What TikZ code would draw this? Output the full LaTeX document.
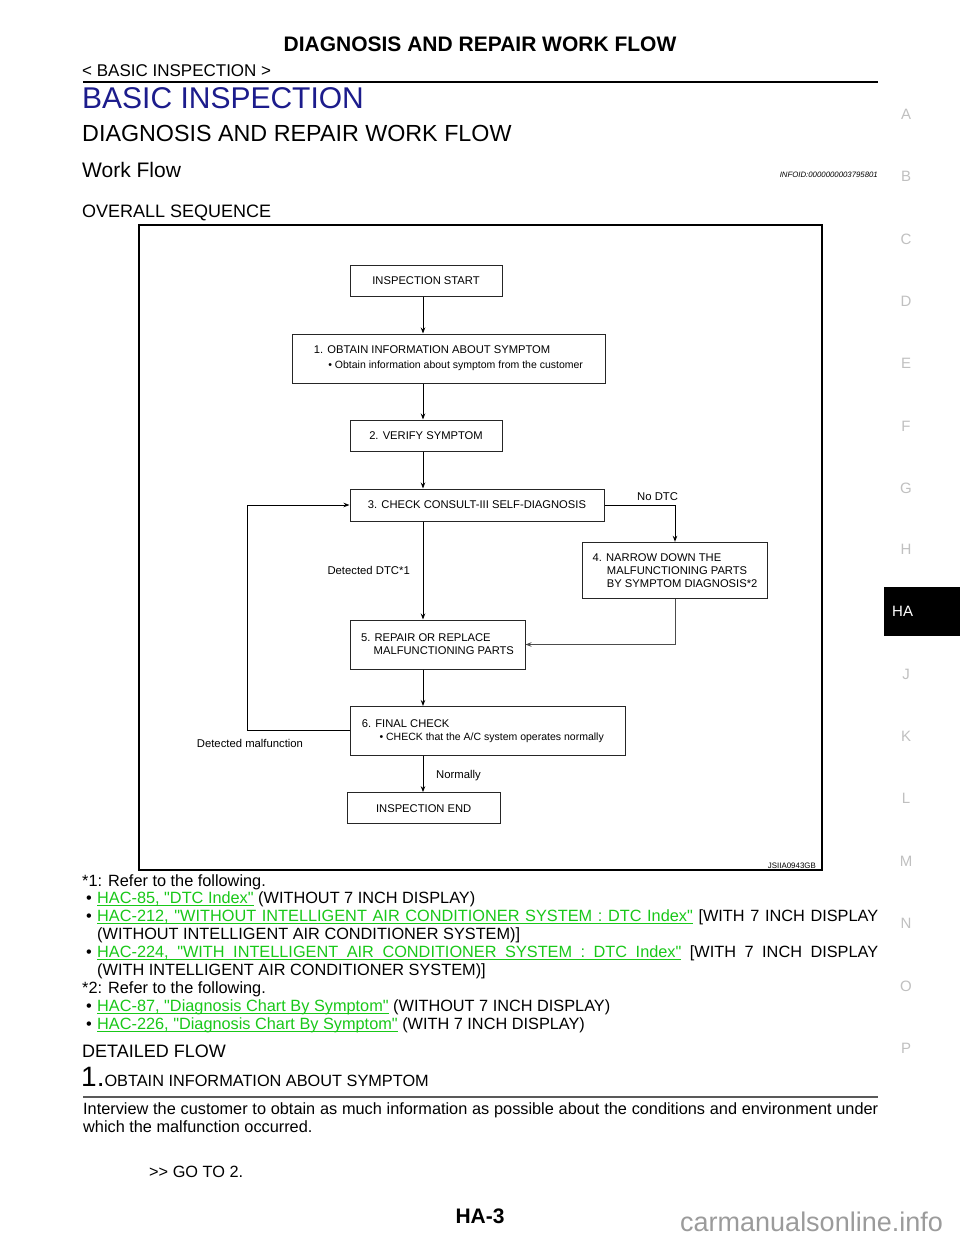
\documentclass[tikz,border=0pt]{standalone}
\usepackage{fontspec}
\setmainfont{Liberation Sans}[Ligatures=TeXOff]
\usetikzlibrary{arrows.meta}
\definecolor{titleblue}{RGB}{28,28,140}
\definecolor{linkgreen}{RGB}{25,200,25}
\definecolor{tabgray}{RGB}{192,192,192}
\definecolor{markgray}{RGB}{155,155,155}
% underlined link words, and underlined stretchable spaces
\newcommand{\ulw}[1]{\leavevmode\setbox0\hbox{#1}\rlap{\rule[-3.1pt]{\wd0}{0.9pt}}\box0}
\newcommand{\ulsp}{\leaders\hrule height -2.2pt depth 3.1pt\hskip\fontdimen2\font plus\fontdimen3\font minus\fontdimen4\font}
\newcommand{\hac}[1]{\textcolor{linkgreen}{\ulw{#1}}}
\tikzstyle{termbox} = [
    rectangle,
    minimum width=152pt,
    minimum height=31pt,
    line width=1pt,
    draw=black!85,
    font=\fontsize{11.2}{13}\selectfont
]
\tikzstyle{stepbox} = [
    rectangle,
    align=left,
    line width=1pt,
    draw=black!85,
    font=\fontsize{11.2}{13}\selectfont
]
\tikzstyle{flowtext} = [
    inner sep=0pt,
    anchor=base west,
    font=\fontsize{11.3}{13}\selectfont
]
\tikzstyle{pagetext} = [
    inner sep=0pt,
    anchor=base west,
    font=\fontsize{16.3}{18}\selectfont
]
\tikzstyle{tabletter} = [
    inner sep=0pt,
    anchor=base,
    text=tabgray,
    font=\fontsize{15}{18}\selectfont
]
\tikzstyle{arrow} = [line width=1pt,-{Stealth[length=6pt,width=4.5pt]}]

\begin{document}
\begin{tikzpicture}[x=1pt, y=-1pt]

\useasboundingbox (0,0) rectangle (960,1242);
\fill [white] (0,0) rectangle (960,1242);

% page header
\node (pagehead) [inner sep=0pt, anchor=base, font=\bfseries\fontsize{21}{24}\selectfont] at (480,51.5) {DIAGNOSIS AND REPAIR WORK FLOW};
\node (crumb) [pagetext, font=\fontsize{17}{20}\selectfont] at (82,76) {< BASIC INSPECTION >};
\draw [line width=2.2pt] (83,82) -- (878,82);
\node (section) [pagetext, text=titleblue, font=\fontsize{30}{34}\selectfont] at (82,108.7) {BASIC INSPECTION};
\node (topic) [pagetext, font=\fontsize{23.3}{26}\selectfont] at (82,141.3) {DIAGNOSIS AND REPAIR WORK FLOW};
\node (workflow) [pagetext, font=\fontsize{21}{24}\selectfont] at (82,177.5) {Work Flow};
\node (infoid) [inner sep=0pt, anchor=base east, font=\itshape\fontsize{7.8}{9}\selectfont] at (878,177) {INFOID:0000000003795801};
\node (overall) [pagetext, font=\fontsize{18}{20}\selectfont] at (82,217.5) {OVERALL SEQUENCE};

% figure frame
\draw [line width=1.8pt] (139,225) rectangle (822,870);
\node (figid) [inner sep=0pt, anchor=base east, font=\fontsize{7.9}{9}\selectfont] at (816,868) {JSIIA0943GB};

% flow boxes
\node (start) [termbox] at (426,280.5) {INSPECTION START};

\node (obtain) [stepbox, minimum width=313pt, minimum height=49pt, font=\fontsize{11.2}{15}\selectfont] at (448.5,358.5)
{1. OBTAIN INFORMATION ABOUT SYMPTOM\\\hspace*{14.4pt}{\fontsize{10.5}{15}\selectfont • Obtain information about symptom from the customer}};

\node (verify) [termbox] at (426,435.5) {2. VERIFY SYMPTOM};

\node (check) [termbox, minimum width=254pt, minimum height=32pt] at (477,505)
{3. CHECK CONSULT-III SELF-DIAGNOSIS};

\node (narrow) [stepbox, minimum width=184.6pt, minimum height=56.4pt] at (675,570.5)
{4. NARROW DOWN THE\\\hspace*{14.3pt}MALFUNCTIONING PARTS\\\hspace*{14.3pt}BY SYMPTOM DIAGNOSIS*2};

\node (repair) [stepbox, minimum width=175pt, minimum height=49pt] at (437.5,644.5)
{5. REPAIR OR REPLACE\\\hspace*{12.7pt}MALFUNCTIONING PARTS};

\node (final) [stepbox, minimum width=275pt, minimum height=48.5pt] at (487.5,730.75)
{6. FINAL CHECK\\\hspace*{17.7pt}{\fontsize{10.5}{13}\selectfont • CHECK that the A/C system operates normally}\hspace*{9.4pt}};

\node (finish) [termbox, minimum width=152.7pt, minimum height=31.3pt] at (423.7,808.3) {INSPECTION END};

% connectors
\coordinate (spine) at (423,0);
\coordinate (loopleft) at (247.7,0);

\draw [arrow] (spine |- start.south) -- (spine |- obtain.north);
\draw [arrow] (spine |- obtain.south) -- (spine |- verify.north);
\draw [arrow] (spine |- verify.south) -- (spine |- check.north);
\draw [arrow] (spine |- check.south) -- (spine |- repair.north);
\draw [arrow] (spine |- repair.south) -- (spine |- final.north);
\draw [arrow] (spine |- final.south) -- (spine |- finish.north);
\draw [arrow] (check.east) -| (narrow.north);
\draw [arrow, black!70] (narrow.south) |- (repair.east);
\draw [arrow] (final.west) -| (loopleft |- check.west) -- (check.west);

\node (nodtc) [flowtext] at (637,500) {No DTC};
\node (dtcfound) [flowtext, anchor=base east] at (410,574) {Detected DTC*1};
\node (normal) [flowtext] at (436,778) {Normally};
\node (faultfound) [flowtext] at (196.7,747) {Detected malfunction};

% notes
\node (note1) [pagetext] at (82,886) {*1: Refer to the following.};
\node (ref85) [pagetext] at (86,903) {\makebox[11pt][l]{•}\hac{HAC-85, "DTC Index"} (WITHOUT 7 INCH DISPLAY)};
\node (ref212) [pagetext] at (86,921) {\makebox[11pt][l]{•}\makebox[781pt][s]{\textcolor{linkgreen}{\ulw{HAC-212,}\ulsp\ulw{"WITHOUT}\ulsp\ulw{INTELLIGENT}\ulsp\ulw{AIR}\ulsp\ulw{CONDITIONER}\ulsp\ulw{SYSTEM}\ulsp\ulw{:}\ulsp\ulw{DTC}\ulsp\ulw{Index"}} [WITH 7 INCH DISPLAY}};
\node (ref212b) [pagetext] at (97,939) {(WITHOUT INTELLIGENT AIR CONDITIONER SYSTEM)]};
\node (ref224) [pagetext] at (86,957) {\makebox[11pt][l]{•}\makebox[781pt][s]{\textcolor{linkgreen}{\ulw{HAC-224,}\ulsp\ulw{"WITH}\ulsp\ulw{INTELLIGENT}\ulsp\ulw{AIR}\ulsp\ulw{CONDITIONER}\ulsp\ulw{SYSTEM}\ulsp\ulw{:}\ulsp\ulw{DTC}\ulsp\ulw{Index"}} [WITH 7 INCH DISPLAY}};
\node (ref224b) [pagetext] at (97,975) {(WITH INTELLIGENT AIR CONDITIONER SYSTEM)]};
\node (note2) [pagetext] at (82,993) {*2: Refer to the following.};
\node (ref87) [pagetext] at (86,1011) {\makebox[11pt][l]{•}\hac{HAC-87, "Diagnosis Chart By Symptom"} (WITHOUT 7 INCH DISPLAY)};
\node (ref226) [pagetext] at (86,1029) {\makebox[11pt][l]{•}\hac{HAC-226, "Diagnosis Chart By Symptom"} (WITH 7 INCH DISPLAY)};

% detailed flow
\node (detailed) [pagetext, font=\fontsize{18}{20}\selectfont] at (82,1057.5) {DETAILED FLOW};
\node (step1) [pagetext] at (81,1086) {{\fontsize{28}{30}\selectfont 1.}OBTAIN INFORMATION ABOUT SYMPTOM};
\draw [line width=1.5pt, black!65] (83,1097) -- (878,1097);
\node (interview) [pagetext] at (83,1114) {\makebox[795pt][s]{Interview the customer to obtain as much information as possible about the conditions and environment under}};
\node (interview2) [pagetext] at (83,1132) {which the malfunction occurred.};
\node (goto) [pagetext] at (149,1177) {>> GO TO 2.};

% footer
\node (pagenum) [inner sep=0pt, anchor=base, font=\bfseries\fontsize{21}{24}\selectfont] at (480,1223.5) {HA-3};
\node (watermark) [pagetext, text=markgray, font=\fontsize{27}{30}\selectfont] at (680,1231.5) {carmanualsonline.info};

% side tabs
\node (tabA) [tabletter] at (906,119.7) {A};
\node (tabB) [tabletter] at (906,181.7) {B};
\node (tabC) [tabletter] at (906,244.7) {C};
\node (tabD) [tabletter] at (906,306.7) {D};
\node (tabE) [tabletter] at (906,368.7) {E};
\node (tabF) [tabletter] at (906,431.7) {F};
\node (tabG) [tabletter] at (906,493.7) {G};
\node (tabH) [tabletter] at (906,554.7) {H};
\node (tabHA) [fill=black, text=white, anchor=north west, minimum width=76pt, minimum height=49pt, inner sep=0pt, text width=60pt, align=left, font=\fontsize{15}{18}\selectfont] at (884,587) {HA};
\node (tabJ) [tabletter] at (906,679.7) {J};
\node (tabK) [tabletter] at (906,741.7) {K};
\node (tabL) [tabletter] at (906,803.7) {L};
\node (tabM) [tabletter] at (906,866.7) {M};
\node (tabN) [tabletter] at (906,928.7) {N};
\node (tabO) [tabletter] at (906,991.7) {O};
\node (tabP) [tabletter] at (906,1053.7) {P};

\end{tikzpicture}
\end{document}
